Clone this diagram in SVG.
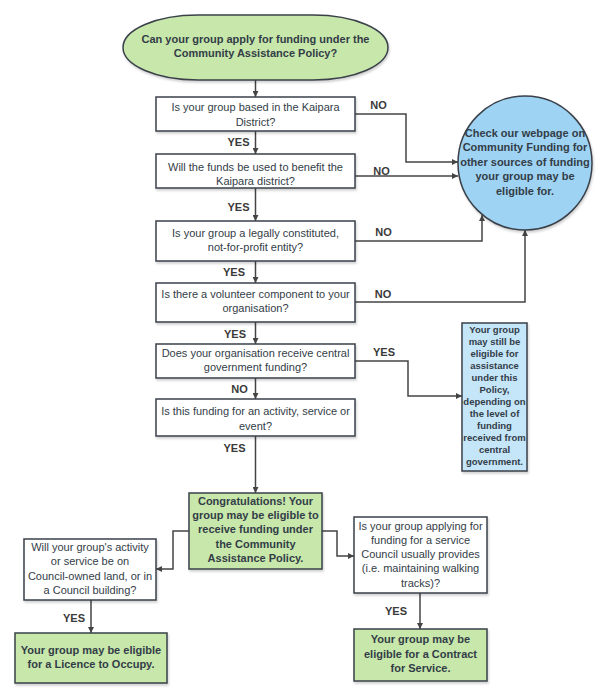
<svg xmlns="http://www.w3.org/2000/svg" width="608" height="700" viewBox="0 0 608 700">
<defs>
<marker id="ah" viewBox="0 0 10 10" refX="10" refY="5" markerWidth="6" markerHeight="6" orient="auto" markerUnits="userSpaceOnUse">
<path d="M0,0 L10,5 L0,10 z" fill="#444"/>
</marker>
<filter id="sh" x="-10%" y="-10%" width="130%" height="130%">
<feDropShadow dx="1" dy="2" stdDeviation="1.2" flood-color="#000" flood-opacity="0.18"/>
</filter>
</defs>
<style>
text{font-family:"Liberation Sans",Arial,sans-serif;fill:#333d47;text-anchor:middle}
.q{font-size:11px}
.b{font-size:11px;font-weight:bold}
.s{font-size:9.5px;font-weight:bold}
.lbl{font-size:11px;font-weight:bold;fill:#3a3a3a}
.box{fill:#fff;stroke:#3a414a;stroke-width:1.5;filter:url(#sh)}
.grn{fill:#c7e7ab;stroke:#3a414a;stroke-width:1.5;filter:url(#sh)}
.blu{fill:#9fd3f3;stroke:#3a414a;stroke-width:1.5;filter:url(#sh)}
.lblu{fill:#c5e5f9;stroke:#3a414a;stroke-width:1.5;filter:url(#sh)}
.c{fill:none;stroke:#444;stroke-width:1.5;marker-end:url(#ah)}
</style>
<rect width="608" height="700" fill="#fff"/>

<g id="connectors">
<path class="c" d="M255.5,80 V97"/>
<path class="c" d="M255.5,131 V154"/>
<path class="c" d="M255.5,188 V221"/>
<path class="c" d="M255.5,261 V283"/>
<path class="c" d="M255.5,322 V344"/>
<path class="c" d="M255.5,378 V399"/>
<path class="c" d="M255.5,436 V493"/>
<path class="c" d="M355,114 H406 V162 H458"/>
<path class="c" d="M355,176 H458"/>
<path class="c" d="M355,241 H482 V215"/>
<path class="c" d="M355,302 H525 V230"/>
<path class="c" d="M355,361 H408 V396 H462"/>
<path class="c" d="M189,531 H173 V569 H156"/>
<path class="c" d="M322,531 H337 V556 H354"/>
<path class="c" d="M91,600 V633"/>
<path class="c" d="M420,593 V629"/>
<text class="lbl" x="238.5" y="146">YES</text>
<text class="lbl" x="238.5" y="211">YES</text>
<text class="lbl" x="234" y="276">YES</text>
<text class="lbl" x="235" y="338">YES</text>
<text class="lbl" x="239.5" y="393">NO</text>
<text class="lbl" x="234.5" y="452">YES</text>
<text class="lbl" x="378.5" y="109">NO</text>
<text class="lbl" x="381.5" y="175">NO</text>
<text class="lbl" x="383.5" y="236">NO</text>
<text class="lbl" x="383" y="298">NO</text>
<text class="lbl" x="384" y="355.7">YES</text>
<text class="lbl" x="74" y="621.7">YES</text>
<text class="lbl" x="396" y="615">YES</text>
</g>

<g id="start">
<rect class="grn" x="123" y="15" width="265" height="65" rx="75" ry="32.5"/>
<text class="b" x="255.5" y="43">Can your group apply for funding under the</text>
<text class="b" x="255.5" y="57">Community Assistance Policy?</text>
</g>

<g id="q1">
<rect class="box" x="156" y="97" width="199" height="34"/>
<text class="q" x="255.5" y="110.5">Is your group based in the Kaipara</text>
<text class="q" x="255.5" y="125.5">District?</text>
</g>

<g id="q2">
<rect class="box" x="156" y="154" width="199" height="34"/>
<text class="q" x="255.5" y="171">Will the funds be used to benefit the</text>
<text class="q" x="255.5" y="185">Kaipara district?</text>
</g>

<g id="q3">
<rect class="box" x="156" y="221" width="199" height="40"/>
<text class="q" x="255.5" y="236.5">Is your group a legally constituted,</text>
<text class="q" x="255.5" y="250.5">not-for-profit entity?</text>
</g>

<g id="q4">
<rect class="box" x="156" y="283" width="199" height="39"/>
<text class="q" x="255.5" y="298">Is there a volunteer component to your</text>
<text class="q" x="255.5" y="312">organisation?</text>
</g>

<g id="q5">
<rect class="box" x="156" y="344" width="199" height="34"/>
<text class="q" x="255.5" y="356.5">Does your organisation receive central</text>
<text class="q" x="255.5" y="371">government funding?</text>
</g>

<g id="q6">
<rect class="box" x="156" y="399" width="199" height="37"/>
<text class="q" x="255.5" y="415">Is this funding for an activity, service or</text>
<text class="q" x="255.5" y="429.5">event?</text>
</g>

<g id="other">
<circle class="blu" cx="525" cy="163" r="67"/>
<text class="b" x="525" y="136.7">Check our webpage on</text>
<text class="b" x="525" y="151.3">Community Funding for</text>
<text class="b" x="525" y="165.7">other sources of funding</text>
<text class="b" x="525" y="180.4">your group may be</text>
<text class="b" x="525" y="194.8">eligible for.</text>
</g>

<g id="central">
<rect class="lblu" x="462" y="323" width="65" height="148"/>
<text class="s" x="494.5" y="332.5">Your group</text>
<text class="s" x="494.5" y="344.5">may still be</text>
<text class="s" x="494.5" y="356.5">eligible for</text>
<text class="s" x="494.5" y="368.5">assistance</text>
<text class="s" x="494.5" y="380.5">under this</text>
<text class="s" x="494.5" y="392.5">Policy,</text>
<text class="s" x="494.5" y="404.5">depending on</text>
<text class="s" x="494.5" y="416.5">the level of</text>
<text class="s" x="494.5" y="428.5">funding</text>
<text class="s" x="494.5" y="440.5">received from</text>
<text class="s" x="494.5" y="452.5">central</text>
<text class="s" x="494.5" y="464.5">government.</text>
</g>

<g id="congrats">
<rect class="grn" x="189" y="493" width="133" height="76"/>
<text class="b" x="255.5" y="504.7">Congratulations! Your</text>
<text class="b" x="255.5" y="519">group may be eligible to</text>
<text class="b" x="255.5" y="533.4">receive funding under</text>
<text class="b" x="255.5" y="547.8">the Community</text>
<text class="b" x="255.5" y="562.2">Assistance Policy.</text>
</g>

<g id="land">
<rect class="box" x="24" y="539" width="132" height="61"/>
<text class="q" x="90" y="550.7">Will your group's activity</text>
<text class="q" x="90" y="565">or service be on</text>
<text class="q" x="90" y="579.5">Council-owned land, or in</text>
<text class="q" x="90" y="594">a Council building?</text>
</g>

<g id="licence">
<rect class="grn" x="15" y="633" width="152" height="50"/>
<text class="b" x="91" y="654">Your group may be eligible</text>
<text class="b" x="91" y="668.3">for a Licence to Occupy.</text>
</g>

<g id="service">
<rect class="box" x="354" y="517" width="133" height="76"/>
<text class="q" x="420.5" y="530">Is your group applying for</text>
<text class="q" x="420.5" y="544">funding for a service</text>
<text class="q" x="420.5" y="558">Council usually provides</text>
<text class="q" x="420.5" y="572.3">(i.e. maintaining walking</text>
<text class="q" x="420.5" y="586.7">tracks)?</text>
</g>

<g id="contract">
<rect class="grn" x="354" y="629" width="133" height="52"/>
<text class="b" x="420.5" y="643.3">Your group may be</text>
<text class="b" x="420.5" y="658">eligible for a Contract</text>
<text class="b" x="420.5" y="672.3">for Service.</text>
</g>
</svg>
